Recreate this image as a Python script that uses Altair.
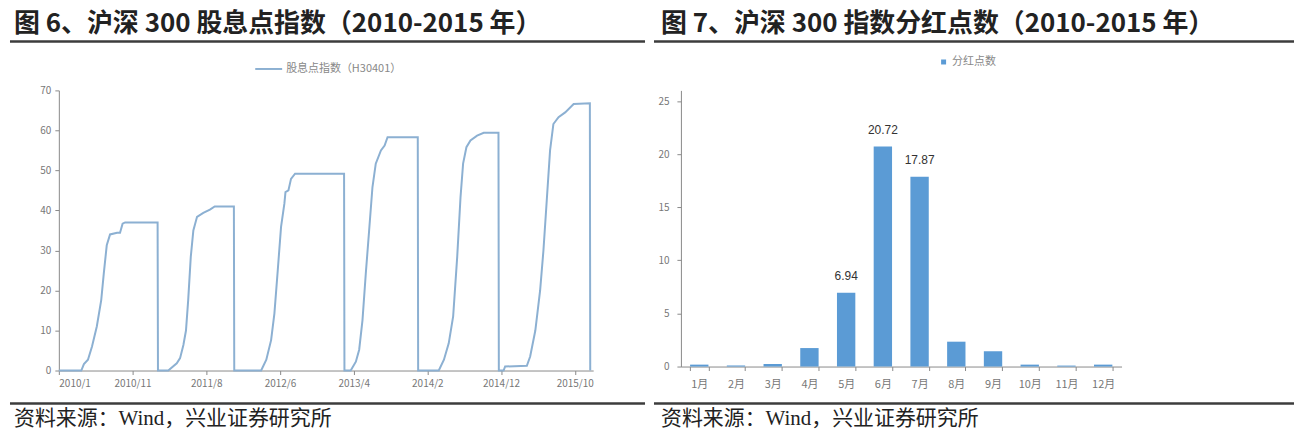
import pandas as pd
import altair as alt

CJK = "Noto Sans CJK SC"
LINE_BLUE = "#8CB0D2"
BAR_BLUE = "#5B9BD5"
RULE_GREY = "#3c3c3c"

# --- Figure 6: dividend point index (H30401) ---
# x is a trading-day counter (the axis labels sit every 200 days)
days_2010 = [0, 61, 68, 79, 90, 103, 115, 122, 130, 139, 158, 166, 173, 180, 268]
pts_2010 = [0, 0, 1.6, 2.7, 6.0, 11.0, 17.6, 24.3, 31.3, 34.0, 34.4, 34.4, 36.7, 37.0, 37.0]
days_2011 = [269, 297, 320, 329, 338, 345, 351, 358, 365, 375, 392, 410, 423, 475]
pts_2011 = [0, 0, 1.8, 3.1, 6.4, 10.0, 17.6, 28.4, 35.0, 38.4, 39.4, 40.2, 41.0, 41.0]
days_2012 = [476, 549, 563, 576, 585, 594, 603, 612, 615, 623, 630, 641, 774]
pts_2012 = [0, 0, 2.7, 7.6, 14.3, 25.0, 35.9, 41.7, 44.6, 45.0, 47.9, 49.2, 49.2]
days_2013 = [775, 792, 806, 815, 824, 833, 842, 851, 860, 874, 884, 892, 974]
pts_2013 = [0, 0, 2.2, 5.2, 12.6, 24.3, 35.0, 45.8, 51.7, 55.0, 56.2, 58.3, 58.3]
days_2014 = [975, 1031, 1045, 1058, 1070, 1081, 1090, 1097, 1106, 1117, 1135, 1153, 1193]
pts_2014 = [0, 0, 2.7, 6.8, 13.5, 28.4, 43.3, 51.7, 55.8, 57.5, 58.7, 59.4, 59.4]
days_2015 = [1194, 1207, 1211, 1270, 1279, 1293, 1306, 1315, 1324, 1333, 1342, 1356, 1374, 1397, 1441, 1442]
pts_2015 = [0, 0, 1.0, 1.2, 3.5, 10.0, 20.0, 30.0, 42.5, 55.0, 61.6, 63.3, 64.5, 66.6, 66.8, 0]

date_labels = ["2010/1", "2010/11", "2011/8", "2012/6", "2013/4", "2014/2", "2014/12", "2015/10"]
tick_days = [0, 200, 400, 600, 800, 1000, 1200, 1400]

# --- Figure 7: dividend points by month ---
months = ["1月", "2月", "3月", "4月", "5月", "6月", "7月", "8月", "9月", "10月", "11月", "12月"]
month_pts = [0.18, 0.1, 0.24, 1.74, 6.94, 20.72, 17.87, 2.34, 1.44, 0.18, 0.09, 0.18]

title_6 = "图 6、沪深 300 股息点指数（2010-2015 年）"
title_7 = "图 7、沪深 300 指数分红点数（2010-2015 年）"
source = "资料来源：Wind，兴业证券研究所"
line_series = "股息点指数（H30401）"
bar_series = "分红点数"

days = days_2010 + days_2011 + days_2012 + days_2013 + days_2014 + days_2015
pts = pts_2010 + pts_2011 + pts_2012 + pts_2013 + pts_2014 + pts_2015
line_df = pd.DataFrame({"n": range(len(days)), "day": days, "pts": pts, "series": line_series})
bar_df = pd.DataFrame({"month": months, "v": month_pts, "series": bar_series})

one = pd.DataFrame({"k": [0]})


def frame(title, x_left, x_right, title_x):
    # heading, the two dark rules and the source line around each panel
    head = alt.Chart(pd.DataFrame({"t": [title]})).mark_text(
        align="left", baseline="middle", font=CJK, fontSize=26, fontWeight="bold", color="#222"
    ).encode(x=alt.value(title_x), y=alt.value(-67), text="t:N")
    top = alt.Chart(one).mark_rule(color=RULE_GREY, strokeWidth=2.5).encode(
        x=alt.value(x_left), x2=alt.value(x_right), y=alt.value(-49))
    bottom = alt.Chart(one).mark_rule(color=RULE_GREY, strokeWidth=2.5).encode(
        x=alt.value(x_left), x2=alt.value(x_right), y=alt.value(314))
    src = alt.Chart(pd.DataFrame({"t": [source]})).mark_text(
        align="left", baseline="middle", font="Liberation Serif, " + CJK, fontSize=21, color="#222"
    ).encode(x=alt.value(title_x), y=alt.value(330), text="t:N")
    return [head, top, bottom, src]


label_expr = "[" + ",".join("'%s'" % s for s in date_labels) + "][round(datum.value / 200)]"

line = alt.Chart(line_df).mark_line(strokeWidth=2).encode(
    x=alt.X("day:Q", scale=alt.Scale(domain=[0, 1450], nice=False, zero=False),
            axis=alt.Axis(values=tick_days, labelExpr=label_expr, title=None, grid=False,
                          labelPadding=4)),
    y=alt.Y("pts:Q", scale=alt.Scale(domain=[0, 70]),
            axis=alt.Axis(values=list(range(0, 71, 10)), title=None, grid=False, labelPadding=4)),
    order="n:Q",
    color=alt.Color("series:N", scale=alt.Scale(domain=[line_series], range=[LINE_BLUE]),
                    legend=alt.Legend(title=None, orient="none", legendX=196, legendY=-36,
                                      symbolType="stroke", symbolSize=729, symbolStrokeWidth=2,
                                      labelFontSize=11, labelColor="#888", labelFont=CJK,
                                      labelOffset=3)),
)

left = alt.layer(line, *frame(title_6, -49, 588, -45)).properties(width=536, height=281)

bars = alt.Chart(bar_df).mark_bar().encode(
    x=alt.X("month:N", sort=months, scale=alt.Scale(paddingInner=0.5, paddingOuter=0.25),
            axis=alt.Axis(title=None, labelAngle=0, tickBand="extent", grid=False,
                          labelPadding=8, labelFontSize=11)),
    y=alt.Y("v:Q", scale=alt.Scale(domain=[0, 25]),
            axis=alt.Axis(values=list(range(0, 26, 5)), title=None, grid=False, labelPadding=8)),
    color=alt.Color("series:N", scale=alt.Scale(domain=[bar_series], range=[BAR_BLUE]),
                    legend=alt.Legend(title=None, orient="none", legendX=258, legendY=-34,
                                      symbolType="square", symbolSize=25,
                                      labelFontSize=11, labelColor="#888", labelFont=CJK,
                                      labelOffset=3)),
)

bar_labels = alt.Chart(bar_df).transform_filter("datum.v >= 5").mark_text(
    dy=-17, fontSize=12, color="#333", font="Liberation Sans"
).encode(
    x=alt.X("month:N", sort=months),
    y=alt.Y("v:Q"),
    text=alt.Text("v:Q", format=".2f"),
)

right = alt.layer(bars, bar_labels, *frame(title_7, -27, 615, -20)).properties(width=442, height=277)

chart = alt.hconcat(left, right, spacing=5).resolve_scale(color="independent").resolve_legend(
    color="independent"
).properties(
    padding={"top": 2, "left": 0, "right": 0, "bottom": 0}, background="white"
).configure_view(stroke=None).configure_axis(
    domainColor="#8a8a8a", tickColor="#8a8a8a", tickSize=4, labelColor="#777",
    labelFontSize=10, labelFont=CJK
)

chart.save("out.html", embed_options={"renderer": "svg", "actions": False})
